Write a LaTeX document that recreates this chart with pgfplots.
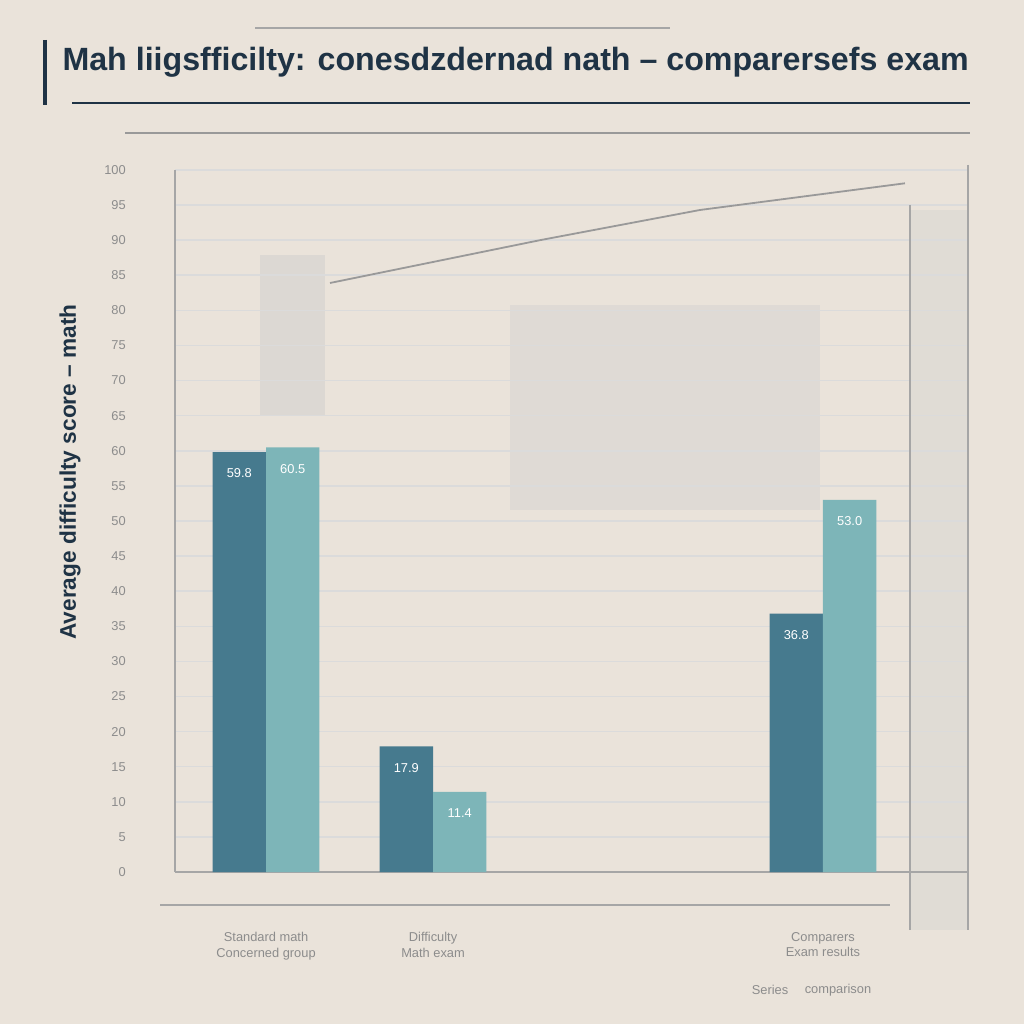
\documentclass[border=0pt]{standalone}
\usepackage{pgfplots}
\pgfplotsset{compat=1.18}
\usepackage{fontspec}
\setmainfont{Liberation Sans}
\definecolor{bg}{RGB}{234,227,218}
\definecolor{darkbar}{RGB}{70,122,142}
\definecolor{lightbar}{RGB}{125,181,184}
\definecolor{titlec}{RGB}{31,51,69}
\definecolor{lab}{RGB}{140,140,140}
\begin{document}
\begin{tikzpicture}[x=0.013672cm,y=0.013672cm]
\fill[bg] (0,0) rectangle (1024,1024);
\useasboundingbox (0,0) rectangle (1024,1024);
% decorative faded blocks
\fill[gray!40,opacity=0.45] (260,1024-255) rectangle (325,1024-415);
\fill[gray!40,opacity=0.35] (510,1024-305) rectangle (820,1024-510);
\fill[gray!40,opacity=0.3] (910,1024-210) rectangle (968,1024-930);
% rules around title
\draw[gray!70,line width=0.8pt] (255,1024-28) -- (670,1024-28);
\draw[titlec,line width=1pt] (72,1024-103) -- (970,1024-103);
\draw[gray!80,line width=0.6pt] (125,1024-133) -- (970,1024-133);
\draw[titlec,line width=1.2pt] (45,1024-40) -- (45,1024-105);
\node[anchor=west,text=titlec,inner sep=0pt] at (62,1024-62)
  {\resizebox{12.39cm}{!}{\bfseries Mah liigsfficilty: conesdzdernad nath \textendash\ comparersefs exam}};
% y label
\node[rotate=90,text=titlec,inner sep=0pt] at (70,1024-472)
  {\resizebox{4.58cm}{!}{\bfseries Average difficulty score \textendash\ math}};
\begin{axis}[
  at={(2.393cm,2.078cm)}, anchor=south west,
  scale only axis, width=10.842cm, height=9.598cm,
  xmin=0.455, xmax=5.204, ymin=0, ymax=100,
  axis x line*=bottom, axis y line*=left,
  axis line style={gray!70, line width=0.6pt},
  ymajorgrids, grid style={gray!28, line width=0.6pt},
  ytick={0,5,...,100},
  yticklabel style={font=\tiny, text=lab, xshift=-0.55cm},
  /pgf/number format/assume math mode=true,
  xtick={1,2,4.335},
  xticklabels={{Standard math\\ Concerned group}, {Difficulty\\ Math exam}, {Comparers\\ Exam results}},
  xticklabel style={font=\tiny, text=lab, align=center, yshift=-20pt},
  major tick length=0pt,
]
\addplot[ybar, bar width=0.32, bar shift=-0.16, fill=darkbar, draw=none,
  nodes near coords, every node near coord/.append style={font=\tiny, text=white, anchor=north, yshift=-3pt, xshift=-0.365cm},
  nodes near coords style={/pgf/number format/.cd, fixed, precision=1, fixed zerofill}]
  coordinates {(1,59.8) (2,17.9) (4.335,36.8)};
\addplot[ybar, bar width=0.32, bar shift=0.16, fill=lightbar, draw=none,
  nodes near coords, every node near coord/.append style={font=\tiny, text=white, anchor=north, yshift=-3pt, xshift=0.365cm},
  nodes near coords style={/pgf/number format/.cd, fixed, precision=1, fixed zerofill}]
  coordinates {(1,60.5) (2,11.4) (4.335,53.0)};
\addplot[gray!80, line width=0.7pt, mark=none] coordinates {(1.383,83.9) (2.641,90.0) (3.599,94.3) (4.826,98.1)};
\end{axis}
% frame lines
\draw[gray!70,line width=0.6pt] (968,1024-165) -- (968,1024-930);
\draw[gray!70,line width=0.6pt] (160,1024-905) -- (890,1024-905);
\draw[gray!70,line width=0.6pt] (910,1024-205) -- (910,1024-930);
\node[font=\tiny,text=lab] at (770,1024-990) {Series};
\node[font=\tiny,text=lab] at (838,1024-990) {comparison};
\end{tikzpicture}
\end{document}
